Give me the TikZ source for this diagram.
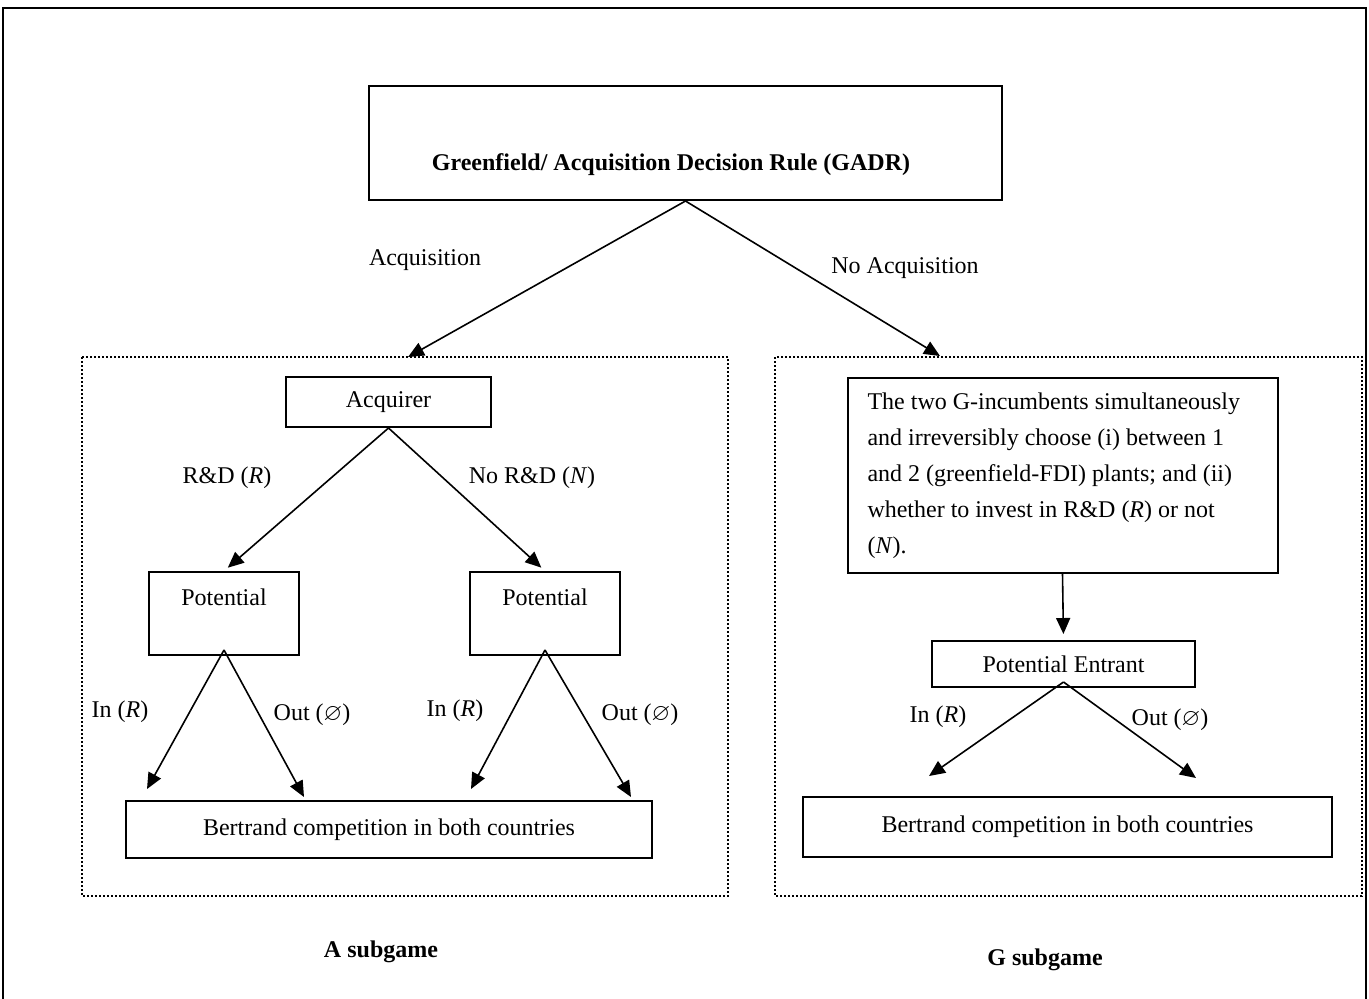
\documentclass[tikz,border=0pt]{standalone}
\usepackage{amssymb}
\usepackage{fontspec}
\setmainfont{Liberation Serif}
\usepackage{tikz}
\usetikzlibrary{positioning,arrows.meta,calc}

\begin{document}
\begin{tikzpicture}[x=0.5pt,y=-0.5pt,font=\fontsize{12}{14}\selectfont,
    box/.style={draw, line width=1pt, inner sep=0pt},
    arr/.style={-{Triangle[length=8pt,width=7pt]}, line width=0.8pt},
    frame/.style={line width=1.3pt, dash pattern=on 1pt off 1pt}]
    \useasboundingbox (0,0) rectangle (1369,998);
    % 
    \draw[line width=1pt] (3,1010) -- (3,8) -- (1366,8) -- (1366,1010);

    % 
    \draw[frame] (82,357) rectangle (728,896);
    \draw[frame] (775,357) rectangle (1362,896);
    \coordinate (atop) at (408,357);
    \coordinate (gtop) at (940,356);

    % 
    \node[box, minimum width=316.5pt, minimum height=57pt] (gadr) at (685.5,143) {};
    \node[font=\bfseries\fontsize{12}{14}\selectfont] (gadrtext) at (671,165) {Greenfield/ Acquisition Decision Rule (GADR)};

    % 
    \node[box, minimum width=102.5pt, minimum height=25pt] (acq) at (388.5,402) {Acquirer};
    \node[box, minimum width=75pt, minimum height=41.5pt, text depth=16pt] (potA) at (224,613.5) {Potential};
    \node[box, minimum width=75pt, minimum height=41.5pt, text depth=16pt] (potB) at (545,613.5) {Potential};
    \node[box, minimum width=263pt, minimum height=28.5pt] (bertA) at (389,829.5) {Bertrand competition in both countries};

    % 
    \node[box, minimum height=97.5pt, text width=195pt, inner xsep=10pt, align=flush left,
          font=\fontsize{12}{18}\selectfont] (gbox) at (1062.5,475.5)
        {The two G-incumbents simultaneously\\
         and irreversibly choose (i) between 1\\
         and 2 (greenfield-FDI) plants; and (ii)\\
         whether to invest in R\&D (\textit{R}) or not\\
         (\textit{N}).};
    \node[box, minimum width=131.5pt, minimum height=23pt] (ent) at (1063.5,664) {Potential Entrant};
    \node[box, minimum width=264.5pt, minimum height=30pt] (bertG) at (1067.5,827) {Bertrand competition in both countries};

    % 
    \draw[arr] (gadr.south) -- (atop);
    \draw[arr] (gadr.south) -- (gtop);
    \draw[arr, shorten >=2.5pt] (acq.south) -- (potA.north);
    \draw[arr, shorten >=2.5pt] (acq.south) -- (potB.north);
    \foreach \p/\a/\b in {potA/22/179, potB/346/506} {
        \draw[arr] ([yshift=3pt]\p.south) -- ($(bertA.north west)+(\a,-11)$);
        \draw[arr] ([yshift=3pt]\p.south) -- ($(bertA.north west)+(\b,-3)$);
    }
    \draw[arr, shorten >=3pt] (gbox.south) -- (ent.north);
    \draw[arr] ([yshift=3pt]ent.south) -- ($(bertG.north west)+(127,-20)$);
    \draw[arr] ([yshift=3pt]ent.south) -- ($(bertG.north west)+(394,-18)$);

    % 
    \node (lacq) at (425,260) {Acquisition};
    \node (lnoacq) at (905,268) {No Acquisition};
    \node (lrd) at (227,478) {R\&D (\textit{R})};
    \node (lnord) at (532,478) {No R\&D (\textit{N})};
    \node (lin1) at (120,712) {In (\textit{R})};
    \node (lout1) at (312,715) {Out ($\varnothing$)};
    \node (lin2) at (455,711) {In (\textit{R})};
    \node (lout2) at (640,715) {Out ($\varnothing$)};
    \node (lin3) at (938,717) {In (\textit{R})};
    \node (lout3) at (1170,720) {Out ($\varnothing$)};

    % 
    \node[font=\bfseries\fontsize{12}{14}\selectfont] (subA) at (381,952) {A subgame};
    \node[font=\bfseries\fontsize{12}{14}\selectfont] (subG) at (1045,960) {G subgame};
\end{tikzpicture}
\end{document}
